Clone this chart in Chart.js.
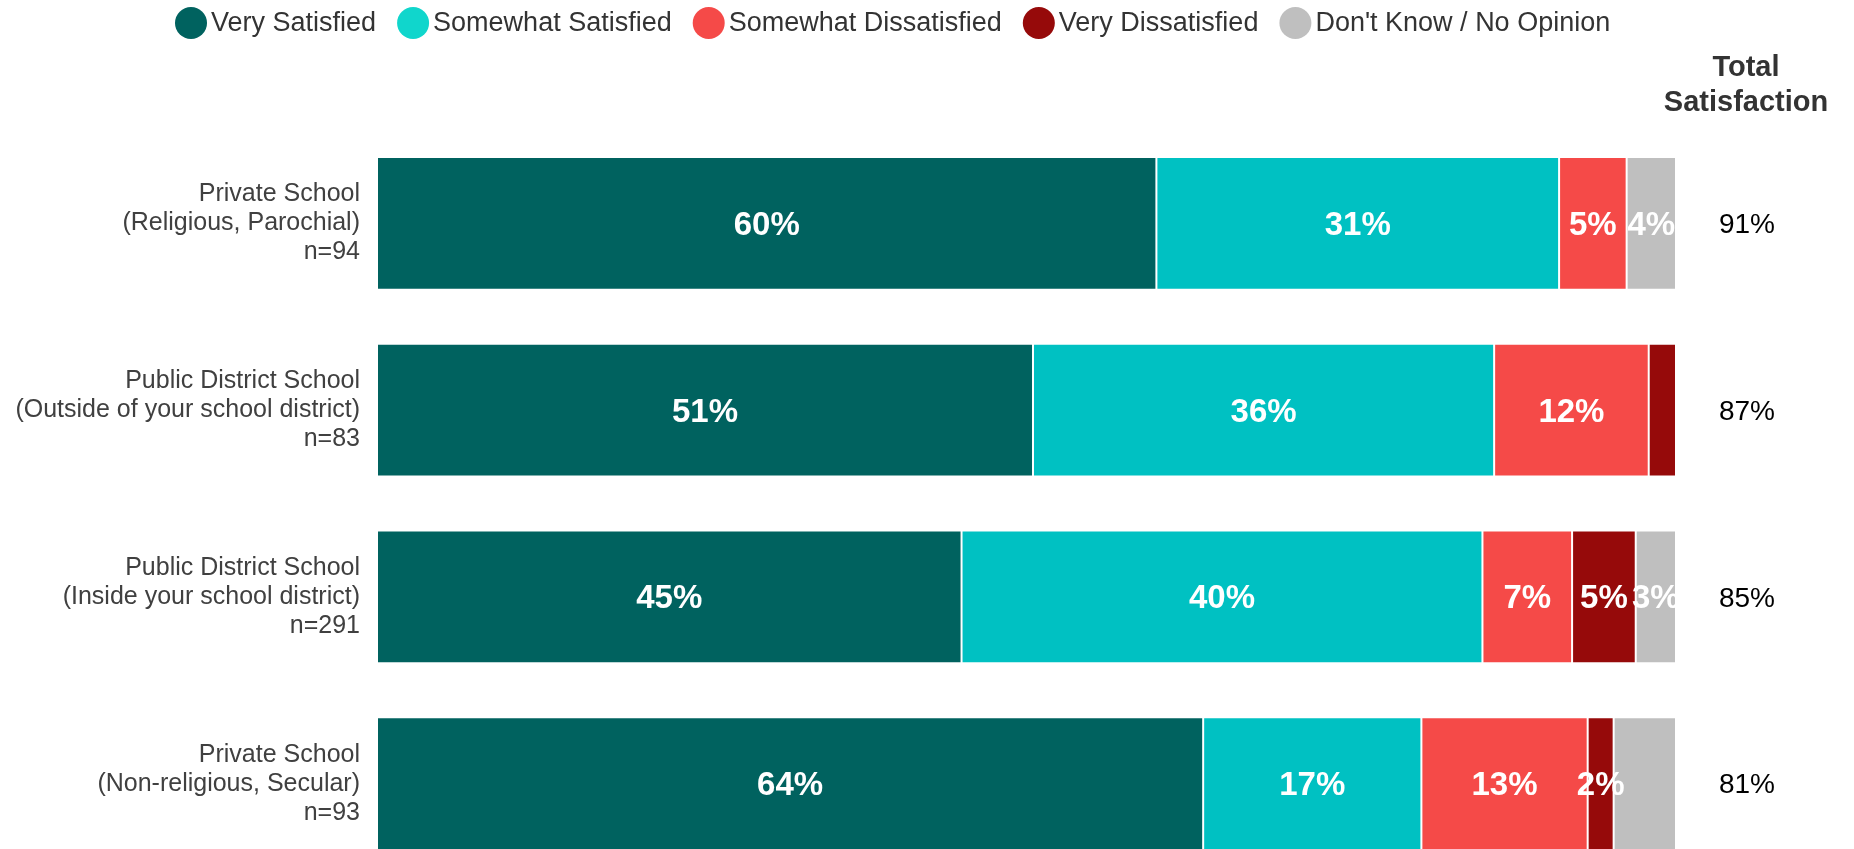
<!DOCTYPE html>
<html>
<head>
<meta charset="utf-8">
<title>School satisfaction</title>
<script src="https://cdn.jsdelivr.net/npm/chart.js@4.4.1/dist/chart.umd.min.js"></script>
<style>
  html, body { margin: 0; padding: 0; background: #fff; overflow: hidden; }
  #satChart { display: block; }
</style>
</head>
<body>
<canvas id="satChart" width="1854" height="877" style="width:1854px;height:877px"></canvas>
<script>
// data
const categories = [
    ['Private School', '(Religious, Parochial)', 'n=94'],
    ['Public District School', '(Outside of your school district)', 'n=83'],
    ['Public District School', '(Inside your school district)', 'n=291'],
    ['Private School', '(Non-religious, Secular)', 'n=93']
];
const seriesNames = ['Very Satisfied', 'Somewhat Satisfied', 'Somewhat Dissatisfied', 'Very Dissatisfied', "Don't Know / No Opinion"];
const verySatisfied = [60, 50.5, 45, 63.6];
const somewhatSatisfied = [31, 35.5, 40.1, 16.8];
const somewhatDissatisfied = [5.2, 11.9, 6.9, 12.8];
const veryDissatisfied = [0, 2.1, 4.9, 2.0];
const dontKnow = [3.8, 0, 3.1, 4.8];
const totalSatisfaction = [91, 87, 85, 81];
// segments that carry no label in the original: [row, series]
const unlabeled = [[1, 3], [3, 4]];

const barColors = ['#00625F', '#00C1C2', '#F54A48', '#960A0A', '#BFBFBF'];
const legendColors = ['#00625F', '#10D6CC', '#F54A48', '#960A0A', '#BFBFBF'];
const FONT = '"Liberation Sans", Arial, sans-serif';

// white percentage labels inside segments
const segmentLabels = {
    id: 'segmentLabels',
    afterDatasetsDraw(chart) {
        const ctx = chart.ctx;
        ctx.save();
        ctx.font = 'bold 33px ' + FONT;
        ctx.fillStyle = '#fff';
        ctx.textAlign = 'center';
        ctx.textBaseline = 'middle';
        chart.data.datasets.forEach((ds, si) => {
            chart.getDatasetMeta(si).data.forEach((bar, ri) => {
                const v = ds.data[ri];
                if (!v || unlabeled.some(u => u[0] === ri && u[1] === si)) return;
                ctx.fillText(Math.round(v) + '%', (bar.x + bar.base) / 2, bar.y + 2.5);
            });
        });
        ctx.restore();
    }
};

// "Total Satisfaction" column on the right
const totalColumn = {
    id: 'totalColumn',
    afterDraw(chart) {
        const ctx = chart.ctx;
        const cx = chart.chartArea.right + 70;
        ctx.save();
        ctx.textAlign = 'center';
        ctx.textBaseline = 'middle';
        ctx.fillStyle = '#333';
        ctx.font = 'bold 29px ' + FONT;
        ctx.fillText('Total', cx, 68);
        ctx.fillText('Satisfaction', cx, 103);
        ctx.fillStyle = '#000';
        ctx.font = '28px ' + FONT;
        totalSatisfaction.forEach((t, i) => {
            ctx.fillText(t + '%', cx + 1, chart.scales.y.getPixelForValue(i) + 2);
        });
        ctx.restore();
    }
};

// legend row at the top (circles + text)
const topLegend = {
    id: 'topLegend',
    afterDraw(chart) {
        const ctx = chart.ctx;
        ctx.save();
        ctx.font = '27px ' + FONT;
        ctx.textBaseline = 'middle';
        let x = 175;
        const y = 23;
        chart.data.datasets.forEach((ds, i) => {
            ctx.fillStyle = legendColors[i];
            ctx.beginPath();
            ctx.arc(x + 16, y, 16, 0, Math.PI * 2);
            ctx.fill();
            ctx.fillStyle = '#333';
            ctx.fillText(ds.label, x + 36, y + 1);
            x += 36 + ctx.measureText(ds.label).width + 21;
        });
        ctx.restore();
    }
};

const seriesData = [verySatisfied, somewhatSatisfied, somewhatDissatisfied, veryDissatisfied, dontKnow];

new Chart(document.getElementById('satChart'), {
    type: 'bar',
    data: {
        labels: categories,
        datasets: seriesNames.map((name, i) => ({
            label: name,
            data: seriesData[i],
            backgroundColor: barColors[i],
            borderColor: 'rgba(255,255,255,0.2)',
            borderWidth: 1,
            borderSkipped: false,
            barPercentage: 0.712,
            categoryPercentage: 1
        }))
    },
    options: {
        indexAxis: 'y',
        responsive: false,
        animation: false,
        devicePixelRatio: 1,
        layout: {
            padding: { top: 130, right: 178, bottom: 0, left: 0 }
        },
        scales: {
            x: {
                stacked: true,
                min: 0,
                max: 100,
                display: false
            },
            y: {
                stacked: true,
                grid: { display: false, drawTicks: false },
                border: { display: false },
                ticks: {
                    padding: 17,
                    color: '#404040',
                    font: { family: FONT, size: 25, lineHeight: 1.16 }
                },
                afterFit(scale) {
                    // fixed axis width, no label overhang padding
                    scale.width = 377;
                    scale.paddingTop = 0;
                    scale.paddingBottom = 0;
                }
            }
        },
        plugins: {
            legend: { display: false },
            tooltip: { enabled: false }
        }
    },
    plugins: [segmentLabels, totalColumn, topLegend]
});
</script>
</body>
</html>
